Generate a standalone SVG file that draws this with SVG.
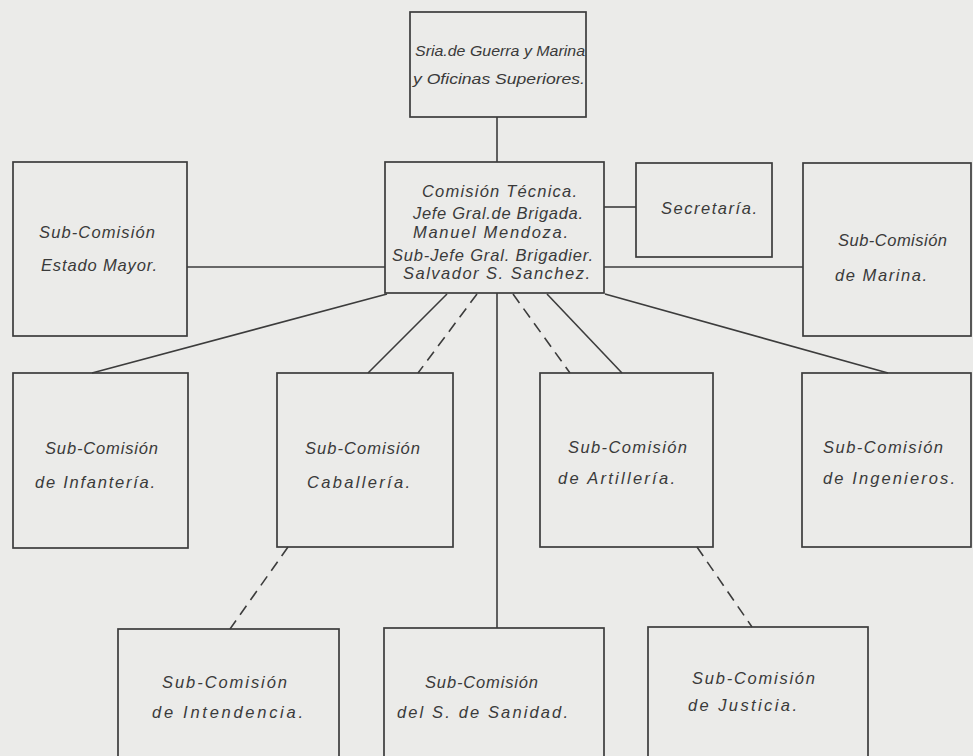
<svg xmlns="http://www.w3.org/2000/svg" width="973" height="756" viewBox="0 0 973 756">
<style>
.bg{fill:#ebebe9}
.box{fill:none;stroke:#3c3c3c;stroke-width:1.7}
.ln{fill:none;stroke:#3c3c3c;stroke-width:1.6}
.dash{stroke-dasharray:11 7}
text{font-family:"Liberation Sans",Arial,sans-serif;font-style:italic;font-size:16.5px;fill:#3a3a3a}
.sm{font-size:15px}
</style>
<rect class="bg" x="0" y="0" width="973" height="756"/>
<g id="connectors">
<line class="ln" x1="497" y1="117" x2="497" y2="162"/>
<line class="ln" x1="187" y1="267" x2="385" y2="267"/>
<line class="ln" x1="604" y1="207" x2="636" y2="207"/>
<line class="ln" x1="604" y1="267" x2="803" y2="267"/>
<line class="ln" x1="387" y1="294" x2="92" y2="373"/>
<line class="ln" x1="447" y1="294" x2="368" y2="373"/>
<line class="ln dash" x1="477" y1="294" x2="418" y2="373"/>
<line class="ln" x1="497" y1="293" x2="497" y2="628"/>
<line class="ln dash" x1="513" y1="294" x2="570" y2="373"/>
<line class="ln" x1="547" y1="294" x2="622" y2="373"/>
<line class="ln" x1="605" y1="294" x2="888" y2="373"/>
<line class="ln dash" x1="288" y1="547" x2="230" y2="629"/>
<line class="ln dash" x1="697" y1="547" x2="752" y2="627"/>
</g>
<g id="n-srio">
<rect class="box" x="410" y="12" width="176" height="105"/>
<text class="sm" x="415" y="56" textLength="170" lengthAdjust="spacingAndGlyphs">Sria.de Guerra y Marina</text>
<text class="sm" x="413" y="84" textLength="172" lengthAdjust="spacingAndGlyphs">y Oficinas Superiores.</text>
</g>
<g id="n-tecnica">
<rect class="box" x="385" y="162" width="219" height="131"/>
<text x="422" y="197" textLength="155">Comisión Técnica.</text>
<text x="413" y="219" textLength="170">Jefe Gral.de Brigada.</text>
<text x="413" y="238" textLength="155">Manuel   Mendoza.</text>
<text x="392" y="261" textLength="201">Sub-Jefe Gral. Brigadier.</text>
<text x="403" y="279" textLength="187">Salvador S. Sanchez.</text>
</g>
<g id="n-secretaria">
<rect class="box" x="636" y="163" width="136" height="94"/>
<text x="661" y="214" textLength="96">Secretaría.</text>
</g>
<g id="n-estado">
<rect class="box" x="13" y="162" width="174" height="174"/>
<text x="39" y="238" textLength="116">Sub-Comisión</text>
<text x="41" y="271" textLength="116">Estado Mayor.</text>
</g>
<g id="n-marina">
<rect class="box" x="803" y="163" width="168" height="173"/>
<text x="838" y="246" textLength="109">Sub-Comisión</text>
<text x="835" y="281" textLength="92">de Marina.</text>
</g>
<g id="n-infanteria">
<rect class="box" x="13" y="373" width="175" height="175"/>
<text x="45" y="454" textLength="113">Sub-Comisión</text>
<text x="35" y="488" textLength="120">de Infantería.</text>
</g>
<g id="n-caballeria">
<rect class="box" x="277" y="373" width="176" height="174"/>
<text x="305" y="454" textLength="115">Sub-Comisión</text>
<text x="307" y="488" textLength="103">Caballería.</text>
</g>
<g id="n-artilleria">
<rect class="box" x="540" y="373" width="173" height="174"/>
<text x="568" y="453" textLength="119">Sub-Comisión</text>
<text x="558" y="484" textLength="117">de Artillería.</text>
</g>
<g id="n-ingenieros">
<rect class="box" x="802" y="373" width="169" height="174"/>
<text x="823" y="453" textLength="120">Sub-Comisión</text>
<text x="823" y="484" textLength="132">de Ingenieros.</text>
</g>
<g id="n-intendencia">
<rect class="box" x="118" y="629" width="221" height="140"/>
<text x="162" y="688" textLength="125">Sub-Comisión</text>
<text x="152" y="718" textLength="151">de Intendencia.</text>
</g>
<g id="n-sanidad">
<rect class="box" x="384" y="628" width="220" height="140"/>
<text x="425" y="688" textLength="113">Sub-Comisión</text>
<text x="397" y="718" textLength="171">del S. de Sanidad.</text>
</g>
<g id="n-justicia">
<rect class="box" x="648" y="627" width="220" height="140"/>
<text x="692" y="684" textLength="123">Sub-Comisión</text>
<text x="688" y="711" textLength="109">de Justicia.</text>
</g>
</svg>
